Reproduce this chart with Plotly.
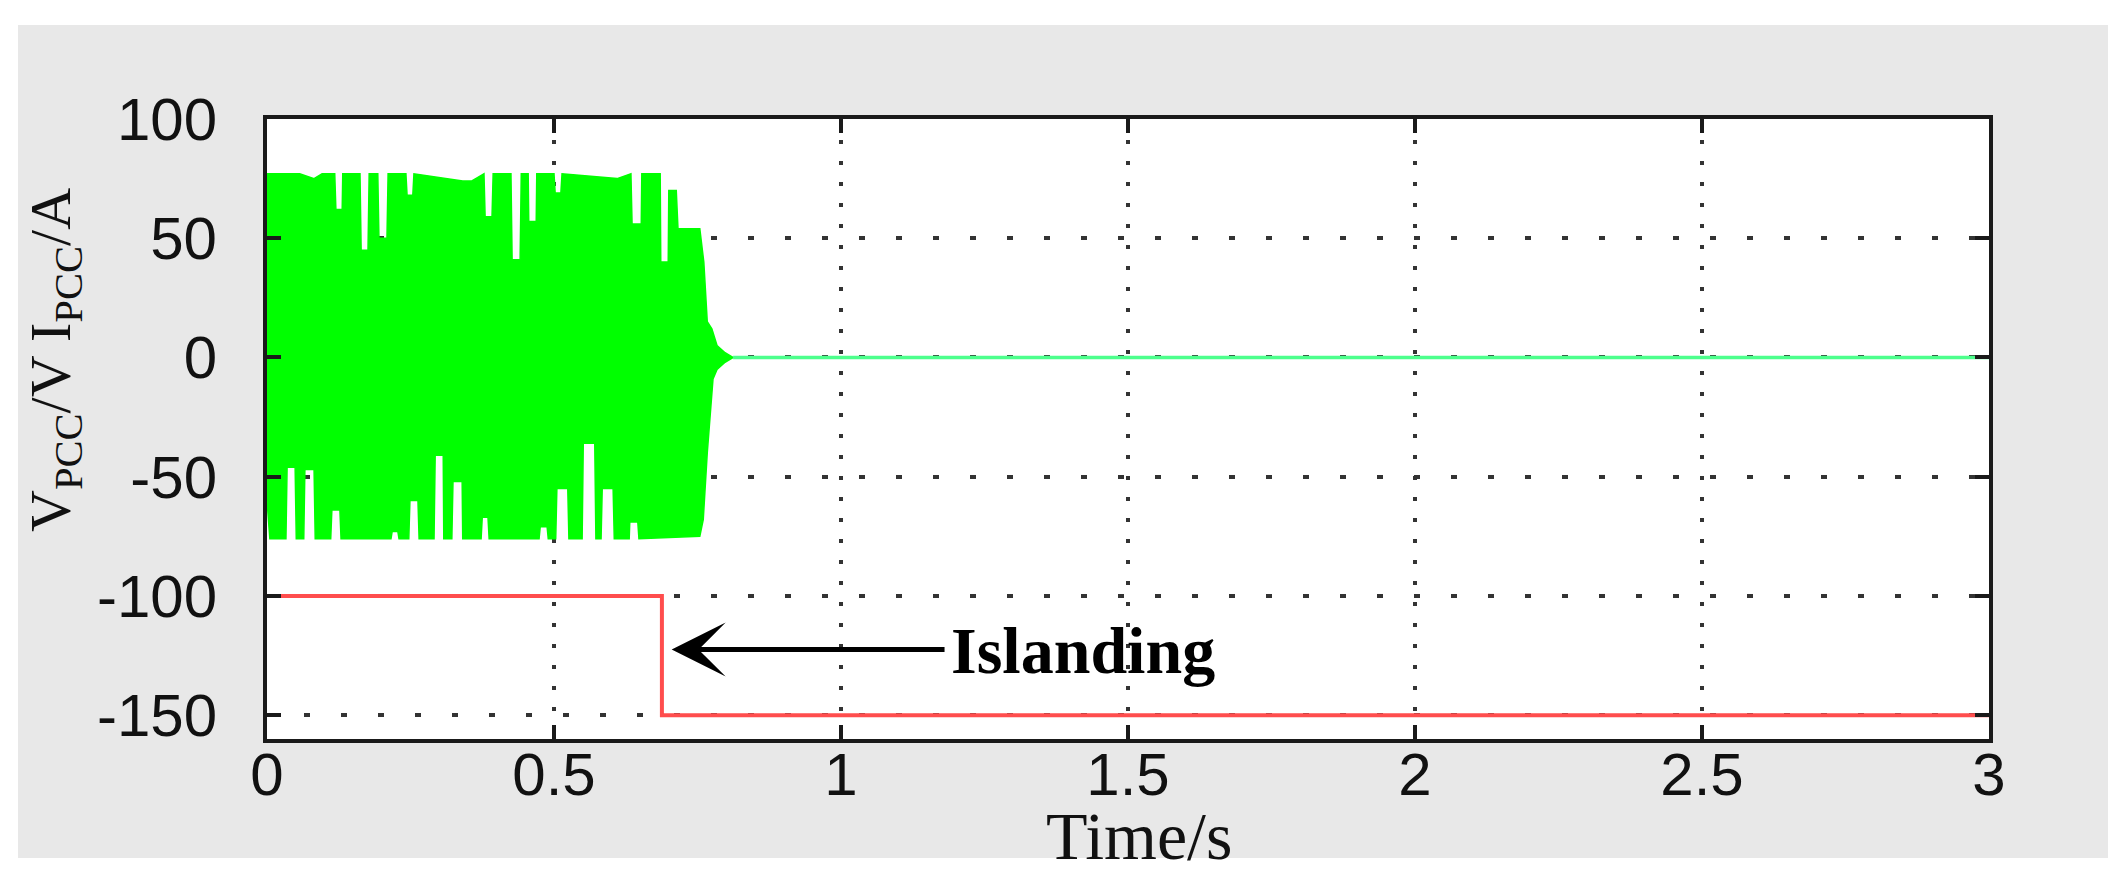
import plotly.graph_objects as go

# ---------------- data ----------------
# Upper envelope of the dense green PCC waveform (time in s, value)
upper_t = [0.000, 0.057, 0.082, 0.096, 0.118, 0.120, 0.131, 0.132, 0.162, 0.164,
           0.176, 0.178, 0.193, 0.195, 0.209, 0.211, 0.242, 0.244, 0.254, 0.256,
           0.341, 0.357, 0.378, 0.380, 0.392, 0.394, 0.425, 0.427, 0.441, 0.443,
           0.455, 0.456, 0.469, 0.470, 0.500, 0.502, 0.512, 0.514, 0.610, 0.634,
           0.636, 0.652, 0.653, 0.685, 0.686, 0.699, 0.700, 0.713, 0.716, 0.754,
           0.761, 0.767, 0.775, 0.784, 0.798, 0.812]
upper_v = [77, 77, 75, 77, 77, 62, 62, 77, 77, 45,
           45, 77, 77, 50, 50, 77, 77, 68, 68, 77,
           74, 74, 77, 59, 59, 77, 77, 41, 41, 77,
           77, 57, 57, 77, 77, 69, 69, 77, 75, 77,
           56, 56, 77, 77, 40, 40, 70, 70, 54, 54,
           40, 15, 12, 5, 2, 0]

# Lower envelope of the dense green PCC waveform
lower_t = [0.000, 0.005, 0.033, 0.035, 0.049, 0.051, 0.064, 0.066, 0.082, 0.084,
           0.111, 0.113, 0.127, 0.129, 0.216, 0.218, 0.228, 0.230, 0.247, 0.249,
           0.263, 0.265, 0.291, 0.293, 0.307, 0.308, 0.322, 0.324, 0.340, 0.341,
           0.373, 0.375, 0.385, 0.387, 0.474, 0.476, 0.488, 0.490, 0.503, 0.505,
           0.524, 0.526, 0.549, 0.551, 0.571, 0.573, 0.582, 0.584, 0.603, 0.605,
           0.631, 0.632, 0.646, 0.648, 0.754, 0.760, 0.767, 0.772, 0.777, 0.784,
           0.798, 0.812]
lower_v = [-60, -76, -76, -46, -46, -76, -76, -47, -47, -76,
           -76, -64, -64, -76, -76, -73, -73, -76, -76, -60,
           -60, -76, -76, -41, -41, -76, -76, -52, -52, -76,
           -76, -67, -67, -76, -76, -71, -71, -76, -76, -55,
           -55, -76, -76, -36, -36, -76, -76, -55, -55, -76,
           -76, -69, -69, -76, -75, -68, -40, -23, -9, -5,
           -2, 0]

# Flat green trace after islanding
flat_t = [0.812, 3.0]
flat_v = [0, 0]

# Red islanding signal (step)
step_t = [0.0, 0.688, 3.0]
step_v = [-100, -150, -150]

# Arrow annotation (tip / tail) and label
arrow_tip = (0.705, -122.5)
arrow_tail = (1.183, -122.5)
label_pos = (1.188, -123)
label_text = "Islanding"

x_ticks = [0, 0.5, 1, 1.5, 2, 2.5, 3]
x_ticklabels = ["0", "0.5", "1", "1.5", "2", "2.5", "3"]
y_ticks = [-150, -100, -50, 0, 50, 100]
y_ticklabels = ["-150", "-100", "-50", "0", "50", "100"]

# ---------------- figure ----------------
OFF = 8                      # page body margin of the html page
W, H = 2126 - OFF, 890 - OFF
L, R, T, B = 267 - OFF, 137, 119 - OFF, 151
pw, ph = W - L - R, H - T - B

def px2paper_x(px):
    return (px - OFF - L) / pw

def px2paper_y(py):
    return (OFF + H - B - py) / ph

fig = go.Figure()

poly_t = upper_t + lower_t[::-1]
poly_v = upper_v + lower_v[::-1]
fig.add_trace(go.Scatter(x=poly_t, y=poly_v, mode="lines", fill="toself",
                         fillcolor="#00ff00", line=dict(color="#00ff00", width=1.5),
                         showlegend=False, hoverinfo="skip"))
fig.add_trace(go.Scatter(x=flat_t, y=flat_v, mode="lines",
                         line=dict(color="#4dff8c", width=3.5),
                         showlegend=False, hoverinfo="skip"))
fig.add_trace(go.Scatter(x=step_t, y=step_v, mode="lines", line_shape="hv",
                         line=dict(color="#ff4d4d", width=4),
                         showlegend=False, hoverinfo="skip"))

# gray figure frame and white plot area
fig.add_shape(type="rect", xref="paper", yref="paper",
              x0=px2paper_x(18), x1=px2paper_x(2108),
              y0=px2paper_y(858), y1=px2paper_y(25),
              fillcolor="#e8e8e8", line=dict(width=0), layer="below")
fig.add_shape(type="rect", xref="paper", yref="paper",
              x0=0, x1=1, y0=0, y1=1,
              fillcolor="white", line=dict(width=0), layer="below")

axis_common = dict(showline=True, linecolor="#1a1a1a", linewidth=4, mirror="ticks",
                   ticks="inside", ticklen=14, tickwidth=4, tickcolor="#1a1a1a",
                   showgrid=True, gridcolor="#333333", gridwidth=4, zeroline=False,
                   tickfont=dict(family="Arial, Liberation Sans, sans-serif",
                                 size=60, color="#111"))

fig.update_xaxes(range=[0, 3], tickvals=x_ticks, ticktext=x_ticklabels,
                 griddash="4px,17px", ticklabelstandoff=-20, **axis_common)
fig.update_yaxes(range=[-160, 100], tickvals=y_ticks, ticktext=y_ticklabels,
                 griddash="6px,31px", ticklabelstandoff=34, **axis_common)

serif = "Times New Roman, Liberation Serif, serif"

# y-axis title
fig.add_annotation(xref="paper", yref="paper", x=px2paper_x(54), y=px2paper_y(360),
                   text="V<sub>PCC</sub>/V I<sub>PCC</sub>/A", textangle=-90,
                   showarrow=False, xanchor="center", yanchor="middle",
                   font=dict(family=serif, size=58, color="#111"))
# x-axis title
fig.add_annotation(xref="paper", yref="paper", x=px2paper_x(1139), y=px2paper_y(836),
                   text="Time/s", showarrow=False, xanchor="center", yanchor="middle",
                   font=dict(family=serif, size=68, color="#111"))

# arrow
fig.add_annotation(x=arrow_tip[0], y=arrow_tip[1], ax=arrow_tail[0], ay=arrow_tail[1],
                   xref="x", yref="y", axref="x", ayref="y", text="",
                   showarrow=True, arrowhead=3, arrowsize=1.8, arrowwidth=5,
                   arrowcolor="black")
fig.add_annotation(x=label_pos[0], y=label_pos[1], xref="x", yref="y",
                   text="<b>" + label_text + "</b>", showarrow=False,
                   xanchor="left", yanchor="middle",
                   font=dict(family=serif, size=66, color="black"))

fig.update_layout(width=W, height=H, autosize=False,
                  margin=dict(l=L, r=R, t=T, b=B),
                  paper_bgcolor="white", plot_bgcolor="white",
                  showlegend=False)

fig.write_html("out.html")
